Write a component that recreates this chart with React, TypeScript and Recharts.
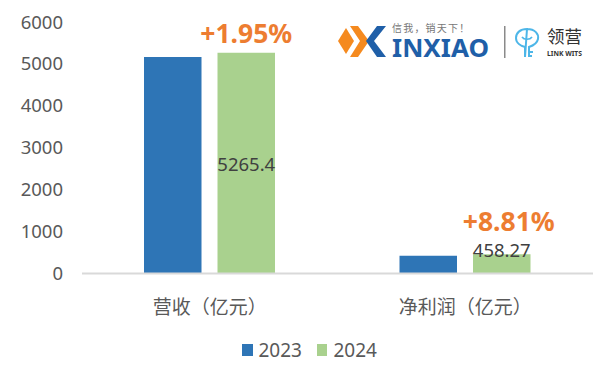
import React from "react";
import { BarChart, Bar, XAxis, YAxis, Legend, LabelList } from "recharts";

const categories = ["营收（亿元）", "净利润（亿元）"];
const values2023 = [5164.7, 421.2];
const values2024 = [5265.4, 458.27];
const yTicks = [0, 1000, 2000, 3000, 4000, 5000, 6000];
const growthLabels = ["+1.95%", "+8.81%"];

const FONT = '"Noto Sans", "Noto Sans CJK SC", sans-serif';
const data = categories.map((name, i) => ({ name, y2023: values2023[i], y2024: values2024[i] }));

const renderValue = (props: any) => {
  const { x, y, width, height, index, value } = props;
  const cy = index === 0 ? y + height / 2 : y - 5;
  return (
    <text x={x + width / 2} y={cy} textAnchor="middle" dominantBaseline="central" fontSize={18.5} fill="#404040" fontFamily={FONT}>
      {value}
    </text>
  );
};

const renderGrowth = (props: any) => {
  const { x, y, width, index } = props;
  const dx = index === 0 ? 0 : 7;
  const dy = index === 0 ? -20 : -33;
  return (
    <text x={x + width / 2 + dx} y={y + dy} textAnchor="middle" dominantBaseline="central" fontSize={26.5} fontWeight={700} fill="#ED7D31" fontFamily={FONT}>
      {growthLabels[index]}
    </text>
  );
};

const renderLegend = (props: any) => (
  <div style={{ display: "flex", gap: 15, fontFamily: FONT, fontSize: 19, color: "#595959", lineHeight: "24px" }}>
    {props.payload.map((item: any) => (
      <div key={item.value} style={{ display: "flex", alignItems: "center", gap: 6 }}>
        <span style={{ width: 10.5, height: 12, background: item.color, display: "inline-block" }} />
        <span>{item.value}</span>
      </div>
    ))}
  </div>
);

function Logo() {
  return (
    <svg width={611} height={382} style={{ position: "absolute", left: 0, top: 0, pointerEvents: "none" }}>
      <path d="M338 41 L346 28 L354 41 L346 54 Z" fill="#F58A1F" />
      <path d="M350 26 L358 26 L369 41 L358 57 L350 57 L360 41 Z" fill="#F58A1F" />
      <path d="M377 26 L386 26 L374 41 L386 57 L377 57 L366 41 Z" fill="#1F5FA8" />
      <text x={392} y={32} fontSize={10} letterSpacing={1.2} fill="#777" fontFamily={FONT}>信我，销天下！</text>
      <text x={392} y={57} fontSize={25} fontWeight={700} fill="#1F5FA8" fontFamily={FONT} textLength={97} lengthAdjust="spacingAndGlyphs">INXIAO</text>
      <rect x={504} y={26} width={1.5} height={32} fill="#8a8a8a" />
      <path d="M527 29 C535 29 539 34 538 39 C537 44 532 46 529 47 L529 57 M529 52 L533 52 M529 56 L532 56 M525 57 L525 47 C521 46 516 43 516 38 C516 33 520 29 527 29 Z" fill="none" stroke="#4DB6E8" strokeWidth={2} />
      <path d="M522 37 C524 40 530 40 532 37" fill="none" stroke="#4DB6E8" strokeWidth={1.6} />
      <text x={547} y={43} fontSize={17.5} fill="#333" fontFamily={FONT}>领营</text>
      <text x={547} y={56} fontSize={7} fontWeight={700} fill="#333" fontFamily={FONT} textLength={35} lengthAdjust="spacingAndGlyphs">LINK WITS</text>
    </svg>
  );
}

export default function App() {
  return (
    <div style={{ position: "absolute", left: 0, top: 0, width: 611, height: 382, background: "#fff" }}>
      <BarChart
        width={611}
        height={382}
        data={data}
        margin={{ top: 22, right: 18, bottom: 0, left: 0 }}
        barSize={57.5}
        barGap={16}
      >
        <XAxis
          dataKey="name"
          height={84.5}
          tickLine={false}
          axisLine={{ stroke: "#D9D9D9", strokeWidth: 2 }}
          tick={{ fontSize: 19, fill: "#595959", fontFamily: FONT, dy: 19 }}
          interval={0}
        />
        <YAxis
          domain={[0, 6000]}
          ticks={yTicks}
          width={82}
          axisLine={false}
          tickLine={false}
          tick={{ fontSize: 18.5, fill: "#595959", fontFamily: FONT, dx: -11 }}
        />
        <Bar dataKey="y2023" name="2023" fill="#2E75B6" isAnimationActive={false} />
        <Bar dataKey="y2024" name="2024" fill="#A9D18E" isAnimationActive={false}>
          <LabelList dataKey="y2024" content={renderValue} />
          <LabelList dataKey="y2024" content={renderGrowth} />
        </Bar>
        <Legend
          verticalAlign="bottom"
          content={renderLegend}
          wrapperStyle={{ left: 242, width: 150, bottom: 20 }}
        />
      </BarChart>
      <Logo />
    </div>
  );
}
